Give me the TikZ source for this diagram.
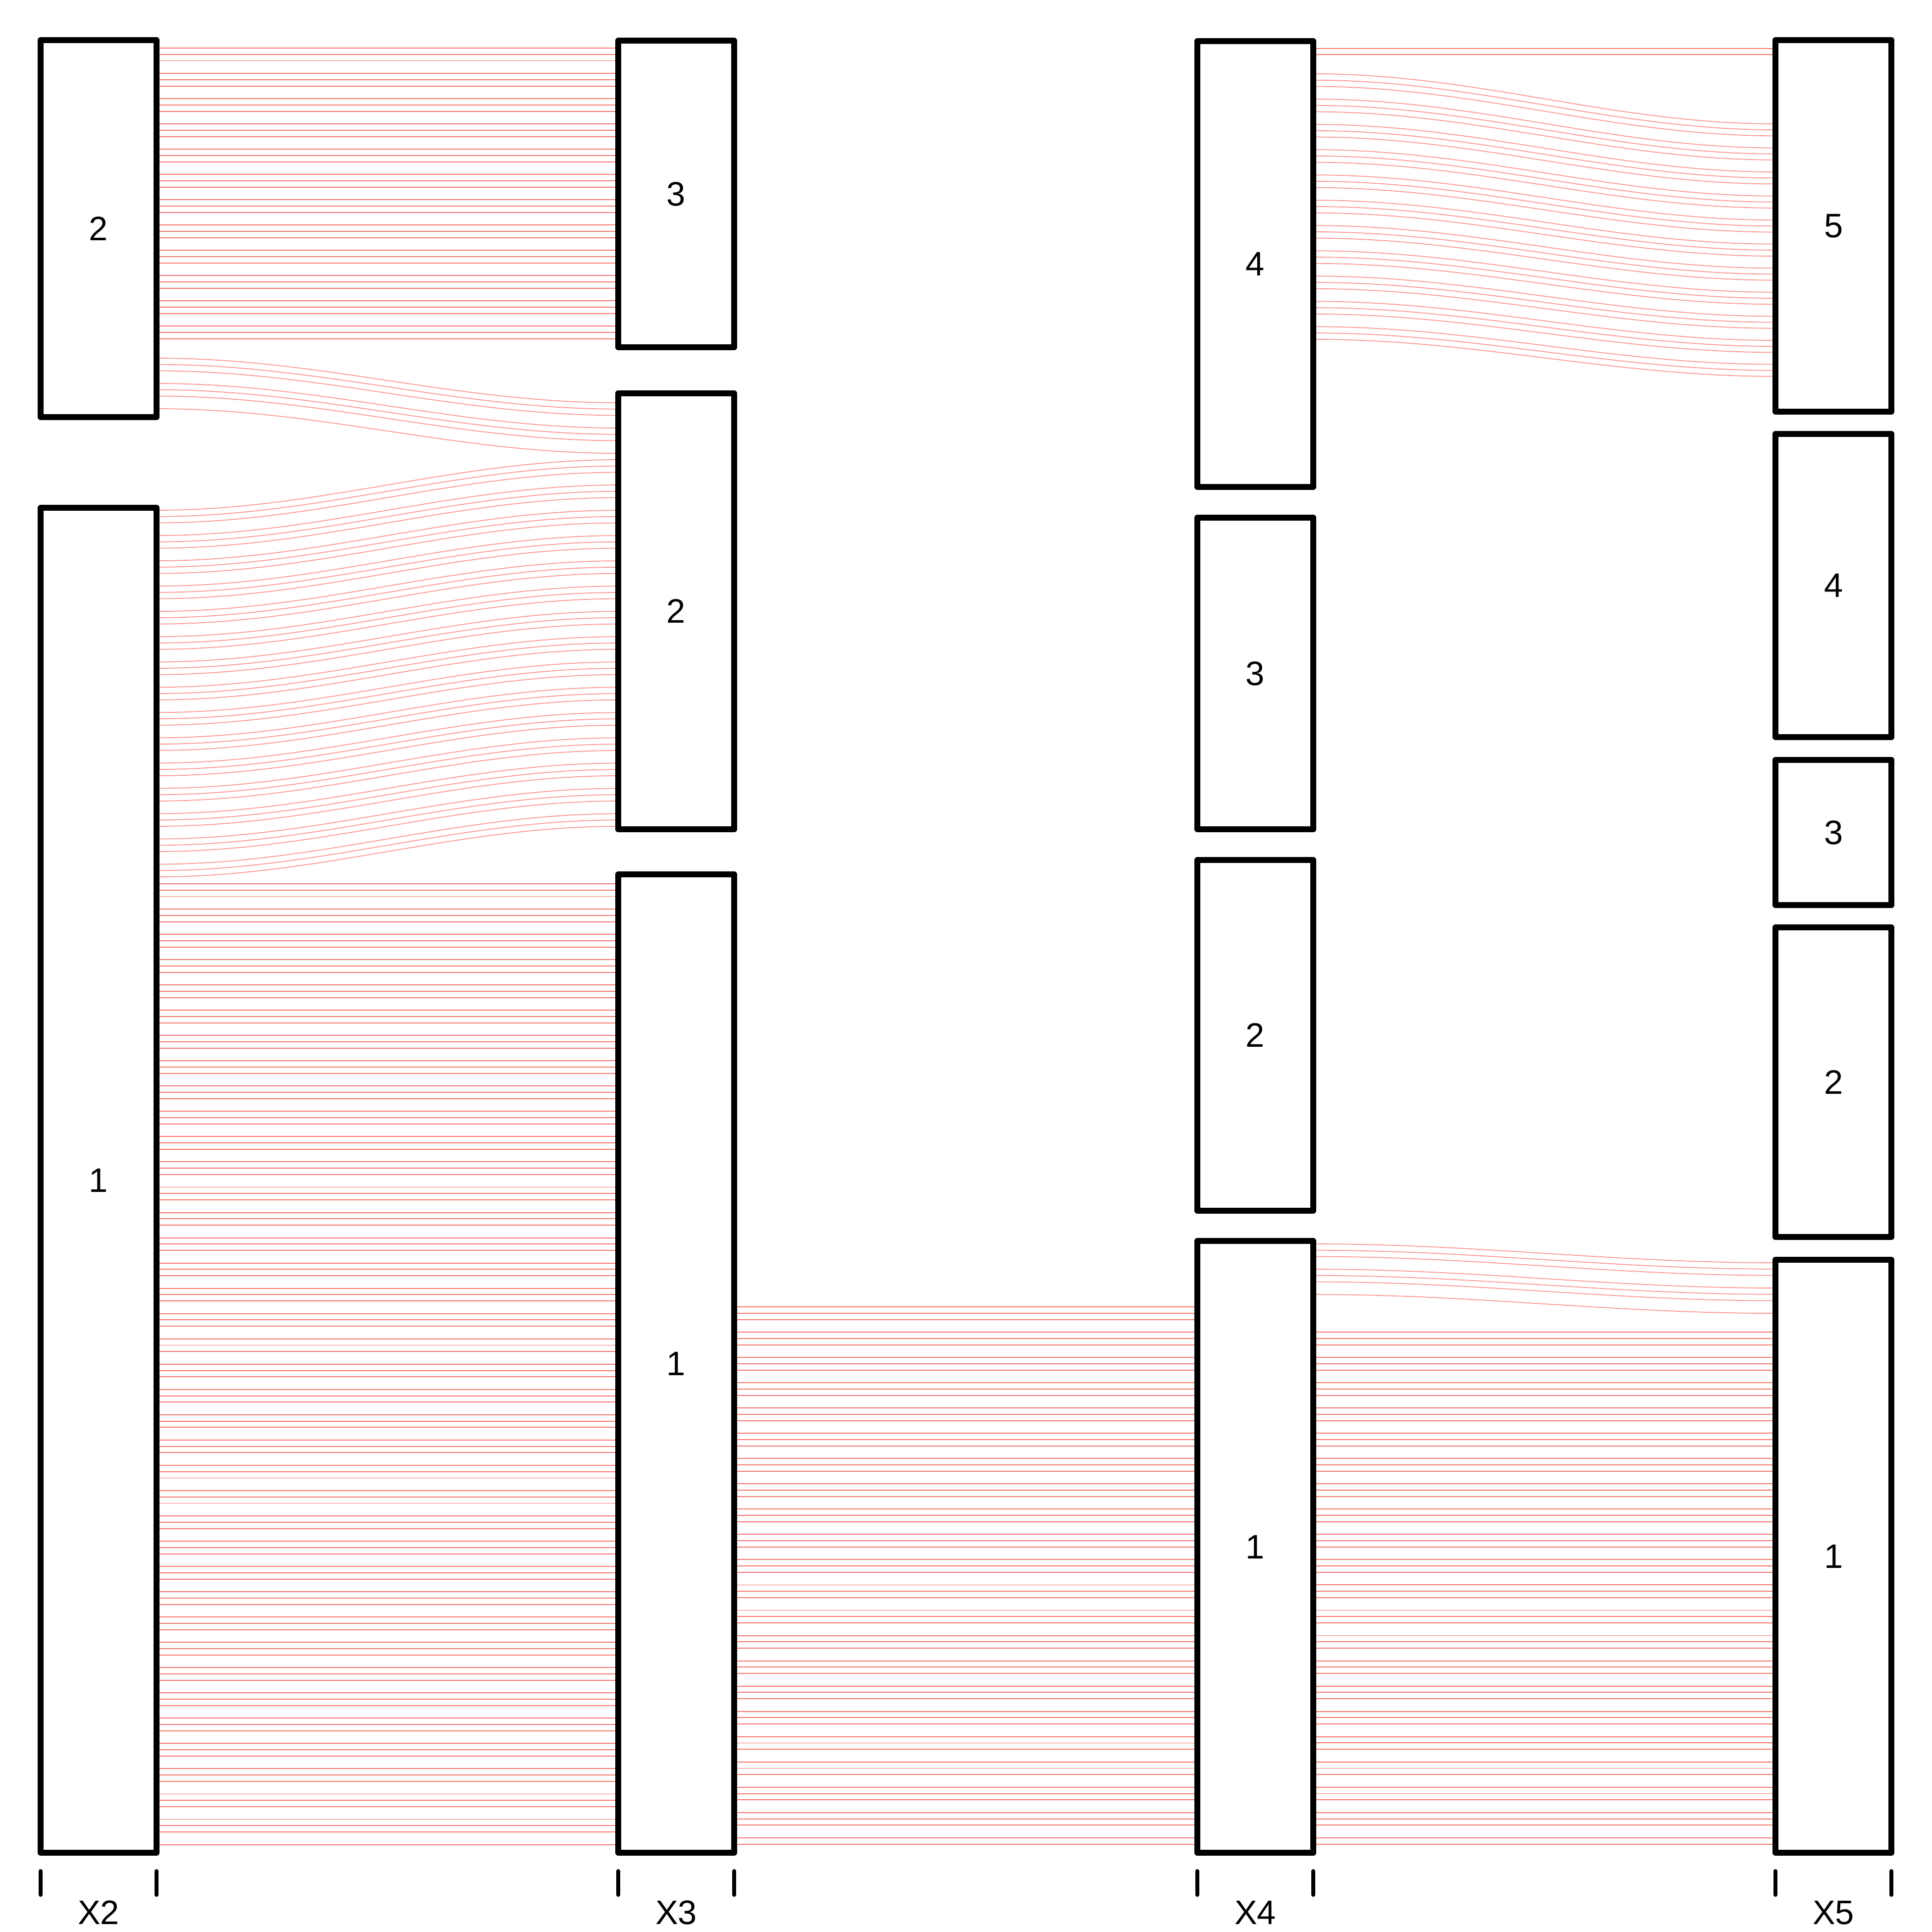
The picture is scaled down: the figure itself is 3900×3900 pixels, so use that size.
\documentclass[tikz,border=0pt]{standalone}
\usepackage{fontspec}
\setmainfont{Liberation Sans}
\usetikzlibrary{fit}
\pgfdeclarelayer{bg}
\pgfsetlayers{bg,main}
\definecolor{flowred}{RGB}{248,118,109}
\tikzset{
  stratum/.style={draw=black, line width=1.3pt, fill=white, inner sep=0pt,
    outer sep=0pt, line join=round},
  stratlabel/.style={inner sep=0pt, font=\fontsize{7.8}{9}\selectfont},
  flow/.style={draw=flowred, line width=0.22pt, opacity=1},
  cflow/.style={draw=flowred, line width=0.2pt, opacity=0.75},
  axtick/.style={line width=0.9pt, line cap=round},
  axlabel/.style={font=\fontsize{7.8}{9}\selectfont, inner sep=0pt},
}
\newcommand\stratumbox[5]{%
  \node[stratum, fit={(#2,#3) (#2+234,#4)}] (#1) {};
  \node[stratlabel] (#1-lab) at (#1.center) {#5};}
\newcommand\straightflows[5]{% left node, right node, y0, kmax, step
  \foreach \k in {0,...,#4}{%
    \pgfmathsetmacro\yy{#3+#5*\k}%
    \pgfmathtruncatemacro\kk{mod(\k,4)}%
    \ifnum\kk=3 \else
      \draw[flow] (#1.east |- 0,\yy) -- (#2.west |- 0,\yy);
    \fi}}
\newcommand\curvedflows[7]{% left node, right node, yl0, yr0, kmax, stepl, stepr
  \foreach \k in {0,...,#5}{%
    \pgfmathsetmacro\yl{#3+#6*\k}%
    \pgfmathsetmacro\yr{#4+#7*\k}%
    \pgfmathtruncatemacro\kk{mod(\k,4)}%
    \ifnum\kk=3 \else
      \draw[cflow] (#1.east |- 0,\yl) .. controls +(330,0) and +(-330,0) .. (#2.west |- 0,\yr);
    \fi}}
\begin{document}
\begin{tikzpicture}[x=0.04mm, y=-0.04mm]
\useasboundingbox (0,0) rectangle (3900,3900);
% strata
\stratumbox{xtwoB}{82}{81}{842}{2}
\stratumbox{xtwoA}{82}{1025}{3740}{1}
\stratumbox{xthreeC}{1248}{82}{701}{3}
\stratumbox{xthreeB}{1248}{794}{1674}{2}
\stratumbox{xthreeA}{1248}{1765}{3740}{1}
\stratumbox{xfourD}{2417}{83}{983}{4}
\stratumbox{xfourC}{2417}{1045}{1674}{3}
\stratumbox{xfourB}{2417}{1736}{2444}{2}
\stratumbox{xfourA}{2417}{2505}{3740}{1}
\stratumbox{xfiveE}{3584}{81}{831}{5}
\stratumbox{xfiveD}{3584}{876}{1488}{4}
\stratumbox{xfiveC}{3584}{1534}{1827}{3}
\stratumbox{xfiveB}{3584}{1872}{2497}{2}
\stratumbox{xfiveA}{3584}{2543}{3740}{1}
% flows
\begin{pgfonlayer}{bg}
\straightflows{xtwoB}{xthreeC}{97}{47}{12.76}
\curvedflows{xtwoB}{xthreeB}{723}{813}{8}{12.76}{12.76}
\curvedflows{xtwoA}{xthreeB}{1030}{928}{58}{12.76}{12.76}
\straightflows{xtwoA}{xthreeA}{1784}{152}{12.76}
\straightflows{xthreeA}{xfourA}{2638}{85}{12.76}
\straightflows{xfourD}{xfiveE}{98}{1}{12}
\curvedflows{xfourD}{xfiveE}{149}{250}{43}{12.76}{12.14}
\curvedflows{xfourA}{xfiveA}{2511}{2549}{8}{12.76}{12.76}
\straightflows{xfourA}{xfiveA}{2689}{81}{12.76}
\end{pgfonlayer}
% axis ticks
\foreach \n in {xtwoA,xthreeA,xfourA,xfiveA}{
  \draw[axtick] (\n.south west |- 0,3777) -- (\n.south west |- 0,3825);
  \draw[axtick] (\n.south east |- 0,3777) -- (\n.south east |- 0,3825);
}
% axis labels
\node[axlabel] (labtwo) at (xtwoA.south |- 0,3861) {X2};
\node[axlabel] (labthree) at (xthreeA.south |- 0,3861) {X3};
\node[axlabel] (labfour) at (xfourA.south |- 0,3861) {X4};
\node[axlabel] (labfive) at (xfiveA.south |- 0,3861) {X5};
\end{tikzpicture}
\end{document}
